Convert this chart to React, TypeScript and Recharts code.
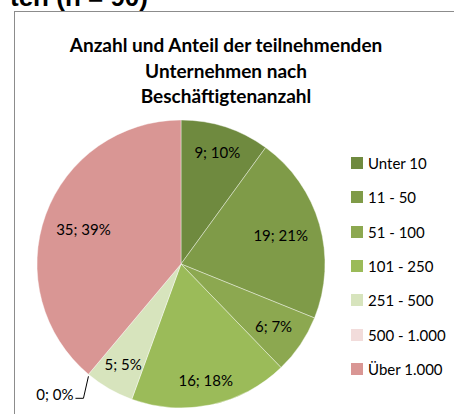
import React from "react";
import { PieChart, Pie, Cell, Legend } from "recharts";

const categories = [
  "Unter 10",
  "11 - 50",
  "51 - 100",
  "101 - 250",
  "251 - 500",
  "500 - 1.000",
  "Über 1.000",
];
const counts = [9, 19, 6, 16, 5, 0, 35];
const percents = [10, 21, 7, 18, 5, 0, 39];

const COLORS = [
  "#6f8a3f", // dark olive
  "#7f9b48",
  "#8ca850",
  "#9bbb59", // olive accent
  "#d7e4bd",
  "#f2dcdb",
  "#d99694", // rose
];

const FONT = "Lato, 'Open Sans', sans-serif";
const RAD = Math.PI / 180;

const data = categories.map((name, i) => ({
  name,
  value: counts[i],
  pct: percents[i],
}));

function renderLabel(props: any) {
  const { cx, cy, midAngle, outerRadius, index } = props;
  const d = data[index];
  const text = `${d.value}; ${d.pct}%`;
  const cos = Math.cos(-midAngle * RAD);
  const sin = Math.sin(-midAngle * RAD);
  const fs = 15;

  if (d.value === 0) {
    // leader line for the empty slice
    const ex = cx + outerRadius * cos;
    const ey = cy + outerRadius * sin;
    return (
      <g key={`lbl-${index}`}>
        <path
          d={`M${ex},${ey + 2} L${ex - 5},${ey + 24} L${ex - 13},${ey + 24}`}
          stroke="#000"
          strokeWidth={1}
          fill="none"
        />
        <text
          x={ex - 15}
          y={ey + 20}
          textAnchor="end"
          dominantBaseline="central"
          fontSize={fs}
          fontFamily={FONT}
          fill="#000"
        >
          {text}
        </text>
      </g>
    );
  }

  const w = text.length * 0.52 * fs;
  const h = fs;
  const half = Math.abs(cos) * (w / 2) + Math.abs(sin) * (h / 2);
  const dist = outerRadius - half - 12;
  return (
    <text
      key={`lbl-${index}`}
      x={cx + dist * cos}
      y={cy + dist * sin}
      textAnchor="middle"
      dominantBaseline="central"
      fontSize={fs}
      fontFamily={FONT}
      fill="#000"
    >
      {text}
    </text>
  );
}

function renderLegend() {
  return (
    <div style={{ fontFamily: FONT, fontSize: 15, color: "#000" }}>
      {categories.map((c, i) => (
        <div
          key={c}
          style={{ height: 34.3, display: "flex", alignItems: "center" }}
        >
          <span
            style={{
              width: 12,
              height: 12,
              background: COLORS[i],
              display: "inline-block",
              marginRight: 5,
            }}
          />
          <span>{c}</span>
        </div>
      ))}
    </div>
  );
}

export default function App() {
  return (
    <div
      style={{
        position: "absolute",
        left: 0,
        top: 0,
        width: 454,
        height: 414,
        overflow: "hidden",
        background: "#fff",
      }}
    >
      {/* heading of the page above, cut off */}
      <svg
        width={454}
        height={20}
        style={{ position: "absolute", left: 0, top: 0 }}
      >
        <text
          x={10}
          y={6}
          fontSize={26}
          fontWeight="bold"
          fontFamily="'Liberation Sans', Arial, sans-serif"
          fill="#000"
        >
          ten (n = 90)
        </text>
      </svg>

      {/* chart frame */}
      <div
        style={{
          position: "absolute",
          left: 14,
          top: 11,
          width: 470,
          height: 430,
          border: "1px solid #8c8c8c",
        }}
      />

      <div
        style={{
          position: "absolute",
          left: 0,
          top: 32,
          width: 452,
          textAlign: "center",
          fontFamily: FONT,
          fontWeight: "bold",
          fontSize: 19,
          lineHeight: "25.5px",
          color: "#000",
        }}
      >
        Anzahl und Anteil der teilnehmenden
        <br />
        Unternehmen nach
        <br />
        Beschäftigtenanzahl
      </div>

      <div style={{ position: "absolute", left: 0, top: 0 }}>
        <PieChart
          width={454}
          height={414}
          margin={{ top: 0, right: 0, bottom: 0, left: 0 }}
        >
          <Pie
            data={data}
            dataKey="value"
            nameKey="name"
            cx={181}
            cy={264}
            outerRadius={144}
            startAngle={90}
            endAngle={-270}
            stroke="#ffffff"
            strokeWidth={0.4}
            label={renderLabel}
            labelLine={false}
            isAnimationActive={false}
          >
            {data.map((_, i) => (
              <Cell key={i} fill={COLORS[i]} />
            ))}
          </Pie>
          <Legend
            layout="vertical"
            verticalAlign="top"
            align="right"
            content={renderLegend}
            wrapperStyle={{ left: 351, top: 146, width: 110 }}
          />
        </PieChart>
      </div>
    </div>
  );
}
